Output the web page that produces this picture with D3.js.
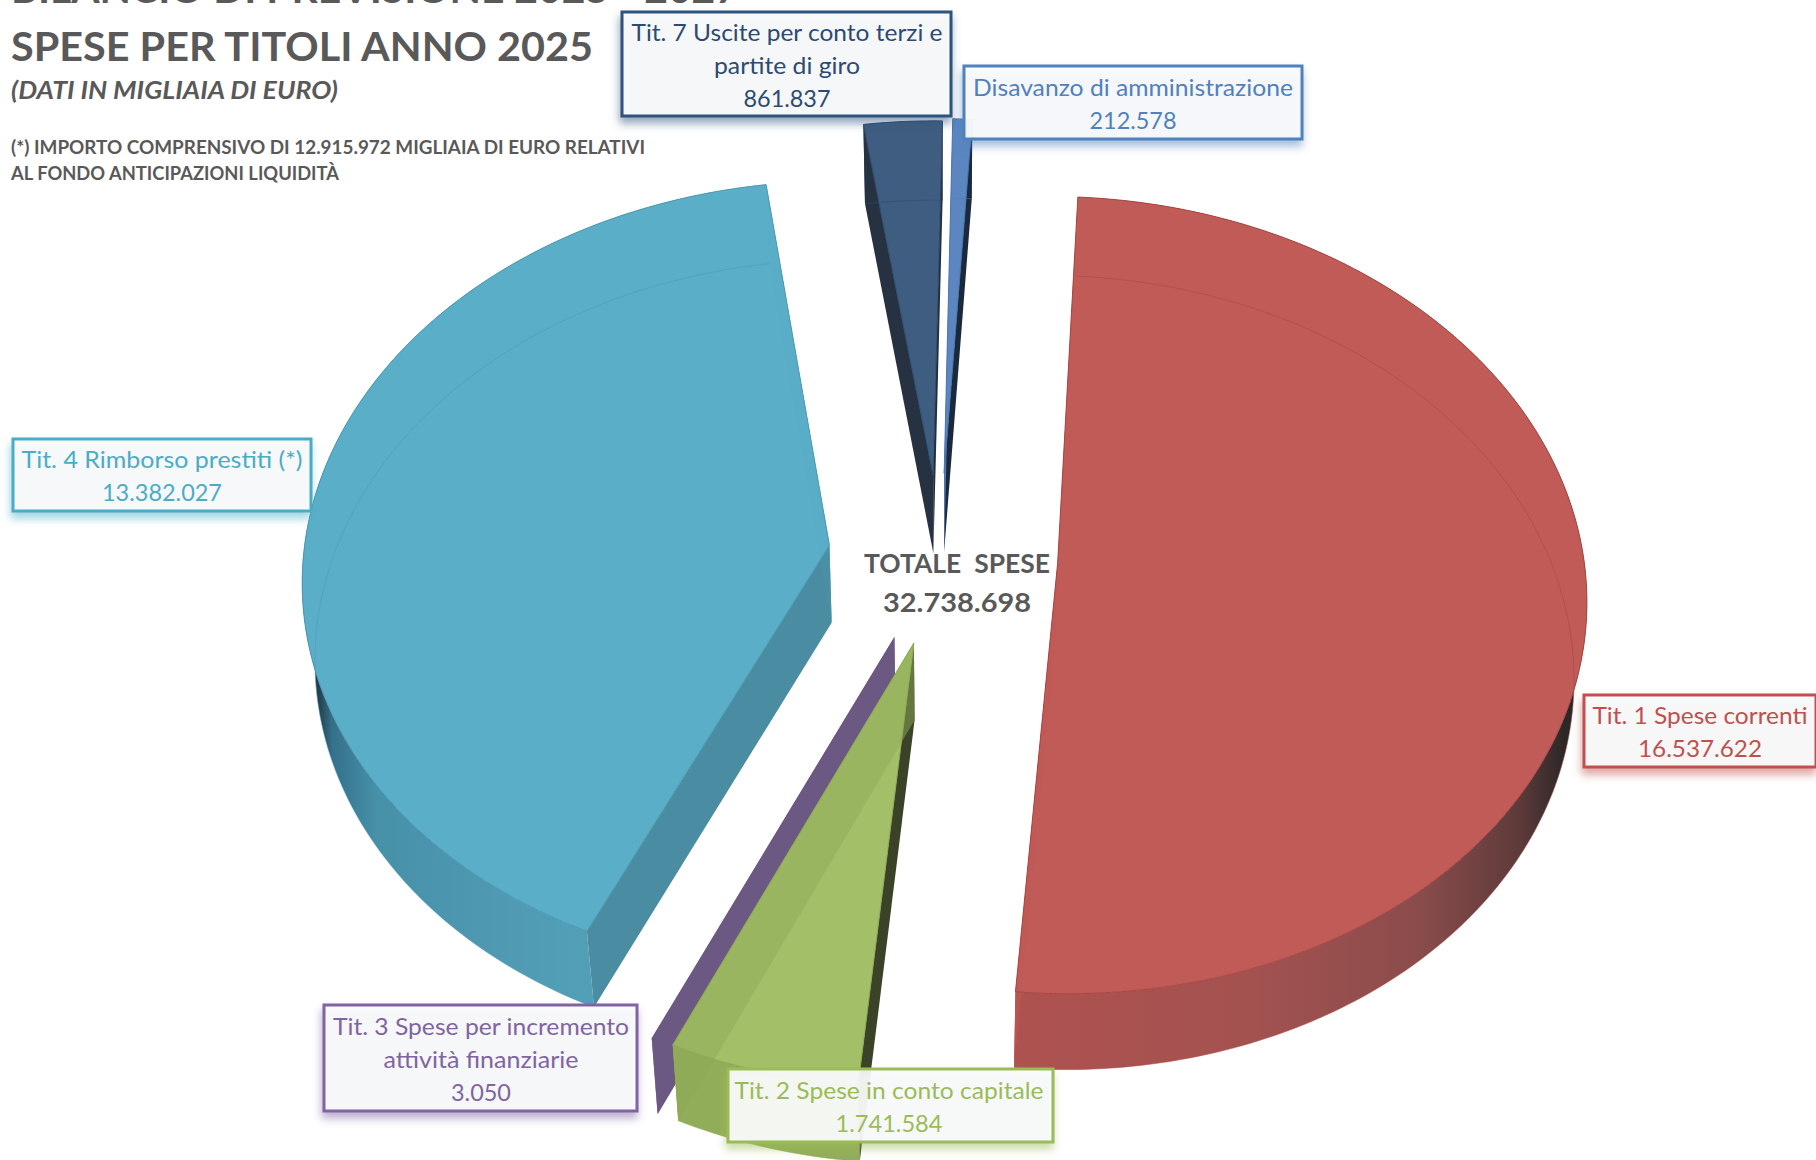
<!DOCTYPE html>
<html><head><meta charset="utf-8">
<script src="https://cdn.jsdelivr.net/npm/d3@7/dist/d3.min.js"></script>
<style>html,body{margin:0;padding:0;background:#fff;overflow:hidden}svg{display:block}text{font-family:Lato,"Noto Sans",sans-serif;white-space:pre}</style>
</head><body><svg id="c" width="1816" height="1160"></svg>
<script>
// ---- data
const categories = ["Tit. 1 Spese correnti","Tit. 2 Spese in conto capitale","Tit. 3 Spese per incremento\nattività finanziarie","Tit. 4 Rimborso prestiti (*)","Tit. 7 Uscite per conto terzi e\npartite di giro","Disavanzo di amministrazione"];
const values = [16537622,1741584,3050,13382027,861837,212578];
const titleLines = ["BILANCIO DI PREVISIONE 2025 - 2027","SPESE PER TITOLI ANNO 2025"];
const subtitle = "(DATI IN MIGLIAIA DI EURO)";
const noteLines = ["(*) IMPORTO COMPRENSIVO DI 12.915.972 MIGLIAIA DI EURO RELATIVI","AL FONDO ANTICIPAZIONI LIQUIDITÀ"];
const totalLabel = "TOTALE  SPESE";

// ---- styles
const topColors  = ["#c15b58","#a3bf68","#6b5983","#5aaec8","#3f5d80","#5b86bf"];
const lineColors = ["#a84542","#8da850","#5d4c74","#4a9ab3","#2f4a6b","#4a76b0"];
const startWall  = ["#b85552","#3a4228","#6b5983","#4a8da2","#263241","#5b86bf"];
const endWall    = ["#b85552","#90ab58","#6b5983","#57a6bf","#232f3e","#1c2a3d"];
const seeThrough = [0.10,0.50,0,0.10,0.05,0.05];
const boxColors  = ["#c0504d","#9bbb59","#8064a2","#4bacc6","#2f527d","#4f81bd"];
const textColors = ["#c0504d","#9bbb59","#8064a2","#4bacc6","#2c4a72","#4f81bd"];
const wallStops  = [
 [[880,"#b5524f"],[1250,"#a35250"],[1420,"#8a4c4b"],[1520,"#5e3a3a"],[1565,"#2b2828"]],
 [[670,"#92ad5a"],[860,"#92ad5a"]],
 [[650,"#6b5983"],[660,"#6b5983"]],
 [[312,"#1c2830"],[332,"#35708a"],[375,"#4690a8"],[500,"#4f9ab2"],[595,"#52a0b8"]],
 [[860,"#3f5d80"],[950,"#3f5d80"]],
 [[950,"#5b86bf"],[980,"#5b86bf"]]
];
// box [x0,y0,x1,y1], text centre, baselines, text widths
const labelLayout = [
 {box:[1584,695,1816,767],cx:1700,base:[724,757],w:[215,124]},
 {box:[728,1069,1053,1142],cx:889,base:[1099,1132],w:[309,107]},
 {box:[324,1005,637,1111],cx:481,base:[1035,1068,1101],w:[296,195,60]},
 {box:[13,439,311,511],cx:162,base:[468,501],w:[281,120]},
 {box:[622,12,951,116],cx:787,base:[41,74,107],w:[311,146,87]},
 {box:[964,66,1302,139],cx:1133,base:[96,129],w:[320,87]}
];

// ---- geometry params
const firstAngle = 3.4*Math.PI/180, persp=0.08;
const explodeBy = [0.224,0.22,0.22,0.207,0.207,0.207];
const shiftX    = [0,4,3,-3,0,0];
const shiftY    = [3,4,3,3,2,0];
const cx=940, cy=553.5, Rx=526, Ry=395, depth=79, vx=944, shrink=0.98;
const sx=d3.scaleLinear().domain([-1,1]).range([-Rx,Rx]);
const sy=d3.scaleLinear().domain([-1,1]).range([-Ry,Ry]);
function proj(X,Y,top){
  const w=1-persp*Y;
  let x=cx+sx(X)/w, y=cy+sy(Y)/w;
  if(!top){x=vx+(x-vx)*shrink; y=y+depth-0.004*(y-200);}
  return [x,y];
}
const pie=d3.pie().sort(null).value(d=>d).startAngle(firstAngle).endAngle(firstAngle+2*Math.PI);
const arcs=pie(values).map((d,i)=>({...d,e:explodeBy[i],dx:shiftX[i],dy:shiftY[i]}));
const line=d3.line();
const fmt=d3.formatLocale({decimal:",",thousands:".",grouping:[3],currency:["€",""]}).format(",d");

function pt(d,a,r,top){
  const mid=(d.startAngle+d.endAngle)/2;
  const X=d.e*Math.sin(mid)+r*Math.sin(a), Y=-d.e*Math.cos(mid)-r*Math.cos(a);
  const p=proj(X,Y,top);
  return [p[0]+d.dx,p[1]+d.dy];
}
function rim(d,top){
  const n=Math.max(2,Math.ceil((d.endAngle-d.startAngle)*60));
  return d3.range(n+1).map(i=>pt(d,d.startAngle+(d.endAngle-d.startAngle)*i/n,1,top));
}
function sideWall(d,a){
  return [pt(d,a,0,true),pt(d,a,1,true),pt(d,a,1,false),pt(d,a,0,false)];
}

const svg=d3.select("#c");
const defs=svg.append("defs");
boxColors.forEach((c,i)=>{
  const f=defs.append("filter").attr("id","sh"+i).attr("x","-10%").attr("y","-20%").attr("width","120%").attr("height","150%");
  f.append("feDropShadow").attr("dx",-1).attr("dy",6).attr("stdDeviation",4).attr("flood-color",c).attr("flood-opacity",.55);
  const g=defs.append("linearGradient").attr("id","wg"+i).attr("gradientUnits","userSpaceOnUse")
    .attr("x1",wallStops[i][0][0]).attr("x2",wallStops[i][wallStops[i].length-1][0]).attr("y1",0).attr("y2",0);
  const x0=wallStops[i][0][0],x1=wallStops[i][wallStops[i].length-1][0];
  wallStops[i].forEach(s=>g.append("stop").attr("offset",(s[0]-x0)/(x1-x0)).attr("stop-color",s[1]));
});

const order=[4,5,3,2,1,0];
const gSlices=svg.append("g");
order.forEach(i=>{
  const d=arcs[i], g=gSlices.append("g").attr("class","slice");
  const T=rim(d,true), B=rim(d,false);
  const apexT=pt(d,d.startAngle,0,true);
  g.append("path").attr("d",line(T.concat(B.slice().reverse()))+"Z").attr("fill",`url(#wg${i})`);
  g.append("path").attr("d",line(sideWall(d,d.endAngle))+"Z").attr("fill",endWall[i]);
  g.append("path").attr("d",line(sideWall(d,d.startAngle))+"Z").attr("fill",startWall[i]);
  if(d.endAngle-d.startAngle>0.01){
    g.append("path").attr("d",line([apexT].concat(T))+"Z").attr("fill",topColors[i]).attr("stroke",lineColors[i]).attr("stroke-width",1);
    if(seeThrough[i]>0) g.append("path").attr("d",line(sideWall(d,d.endAngle))+"Z").attr("fill",endWall[i]).attr("fill-opacity",seeThrough[i]);
    g.append("path").attr("d",line(B)).attr("fill","none").attr("stroke",lineColors[i]).attr("stroke-width",1).attr("stroke-opacity",.55);
  }
});

// ---- title block
const ink="#595959";
function t(txt,x,y,size,opts={}){
  const e=svg.append("text").attr("x",x).attr("y",y).attr("font-size",size).attr("fill",opts.fill||ink)
   .attr("font-weight",opts.weight||700).attr("font-style",opts.italic?"italic":"normal").attr("text-anchor",opts.anchor||"start").text(txt);
  if(opts.w) e.attr("textLength",opts.w).attr("lengthAdjust","spacingAndGlyphs");
  return e;
}
t(titleLines[0],11,3,40,{w:728});
t(titleLines[1],11,61,41,{w:582});
t(subtitle,11,99,24,{italic:true,w:327});
t(noteLines[0],11,154,18,{w:634});
t(noteLines[1],11,180,18,{w:328});
t(totalLabel,957,573,27,{anchor:"middle",w:186});
t(fmt(d3.sum(values)),957,612,27,{anchor:"middle",w:148});

// ---- labels
const gL=svg.append("g");
[4,5,3,1,0,2].forEach(i=>{
  const L=labelLayout[i],b=L.box;
  gL.append("rect").attr("x",b[0]).attr("y",b[1]).attr("width",b[2]-b[0]).attr("height",b[3]-b[1])
    .attr("fill","#fafbfc").attr("fill-opacity",.92).attr("stroke",boxColors[i]).attr("stroke-width",3).attr("filter",`url(#sh${i})`);
  const lines=categories[i].split("\n").concat([fmt(values[i])]);
  lines.forEach((s,k)=>{
    gL.append("text").attr("x",L.cx).attr("y",L.base[k]).attr("text-anchor","middle").attr("font-size",24)
      .attr("fill",textColors[i]).attr("textLength",L.w[k]).attr("lengthAdjust","spacingAndGlyphs").text(s);
  });
});
</script></body></html>
